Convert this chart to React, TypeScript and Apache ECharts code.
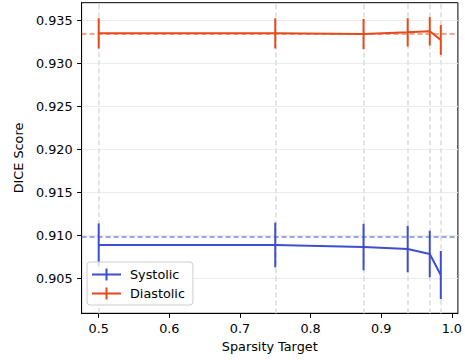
import React, { useEffect, useRef } from "react";
import * as echarts from "echarts";

const sparsity = [0.5, 0.75, 0.875, 0.9375, 0.96875, 0.984375];
const systolicMean = [0.90887, 0.90887, 0.90863, 0.9084, 0.90782, 0.90538];
const systolicErr = [0.0025, 0.0026, 0.0027, 0.0027, 0.0027, 0.0028];
const diastolicMean = [0.93345, 0.93345, 0.93337, 0.93357, 0.93369, 0.93268];
const diastolicErr = [0.00176, 0.00176, 0.00176, 0.00165, 0.00165, 0.00174];
const systolicBaseline = 0.90983;
const diastolicBaseline = 0.93345;
const xTicks = [0.5, 0.6, 0.7, 0.8, 0.9, 1.0];
const yTicks = [0.905, 0.91, 0.915, 0.92, 0.925, 0.93, 0.935];

const BLUE = "#3b4fcf";
const ORANGE = "#e64a19";
const FONT = "DejaVu Sans";
const FS = 12.8;
const LW = 2;

const legendIcon = "path://M0,5h29v2h-29z M13.5,0h2v12h-2z";

function errSeries(name: string, color: string, means: number[], errs: number[]) {
  return {
    name,
    type: "custom",
    z: 6,
    data: sparsity.map((x, i) => [x, means[i], errs[i]]),
    encode: { x: 0, y: 1 },
    renderItem: (_p: any, api: any) => {
      const x = api.value(0);
      const y = api.value(1);
      const e = api.value(2);
      const a = api.coord([x, y - e]);
      const b = api.coord([x, y + e]);
      return {
        type: "line",
        shape: { x1: a[0], y1: a[1], x2: b[0], y2: b[1] },
        style: { stroke: color, lineWidth: LW },
      };
    },
  };
}

export default function App() {
  const ref = useRef<HTMLDivElement>(null);
  useEffect(() => {
    if (!ref.current) return;
    const chart = echarts.init(ref.current, null, { renderer: "svg" });
    chart.setOption({
      animation: false,
      textStyle: { fontFamily: FONT },
      grid: {
        left: 81.6,
        right: 7,
        top: 2.7,
        bottom: 46.7,
        show: true,
        borderColor: "#000",
        borderWidth: 1,
      },
      legend: {
        orient: "vertical",
        left: 87,
        top: 262,
        z: 10,
        padding: [6, 8, 5, 5],
        itemGap: 6,
        itemWidth: 29,
        itemHeight: 12,
        borderColor: "#cccccc",
        borderWidth: 1,
        borderRadius: 3,
        backgroundColor: "rgba(255,255,255,0.8)",
        textStyle: { fontSize: FS, color: "#000", fontFamily: FONT, padding: [0, 0, 0, 4] },
        data: [
          { name: "Systolic", icon: legendIcon },
          { name: "Diastolic", icon: legendIcon },
        ],
      },
      xAxis: {
        type: "value",
        min: 0.4758,
        max: 1.0086,
        name: "Sparsity Target",
        nameLocation: "middle",
        nameGap: 27,
        nameTextStyle: { fontSize: FS, color: "#000", fontFamily: FONT },
        axisLine: { show: true, lineStyle: { color: "#000", width: 1 } },
        axisTick: {
          show: true,
          length: 4.5,
          customValues: xTicks,
          lineStyle: { color: "#000", width: 1 },
        },
        axisLabel: {
          customValues: xTicks,
          margin: 9,
          fontSize: FS,
          color: "#000",
          fontFamily: FONT,
          formatter: (v: number) => v.toFixed(1),
        },
        splitLine: { show: false },
      },
      yAxis: {
        type: "value",
        min: 0.900935,
        max: 0.93701,
        name: "DICE Score",
        nameLocation: "middle",
        nameGap: 52,
        nameTextStyle: { fontSize: FS, color: "#000", fontFamily: FONT },
        axisLine: { show: true, lineStyle: { color: "#000", width: 1 } },
        axisTick: {
          show: true,
          length: 4.5,
          customValues: yTicks,
          lineStyle: { color: "#000", width: 1 },
        },
        axisLabel: {
          customValues: yTicks,
          margin: 9,
          fontSize: FS,
          color: "#000",
          fontFamily: FONT,
          formatter: (v: number) => v.toFixed(3),
        },
        splitLine: { show: true, lineStyle: { color: "#ebebeb", width: 1 } },
      },
      series: [
        {
          name: "guides",
          type: "line",
          data: [],
          z: 1,
          silent: true,
          markLine: {
            silent: true,
            z: 1,
            symbol: "none",
            precision: 8,
            label: { show: false },
            animation: false,
            data: [
              ...sparsity.map((x) => ({
                xAxis: x,
                lineStyle: { color: "#e3e3e3", type: [5, 3], width: LW },
              })),
              {
                yAxis: systolicBaseline,
                lineStyle: { color: BLUE, opacity: 0.5, type: [5, 3], width: LW },
              },
              {
                yAxis: diastolicBaseline,
                lineStyle: { color: ORANGE, opacity: 0.5, type: [5, 3], width: LW },
              },
            ],
          },
        },
        {
          name: "Systolic",
          type: "line",
          z: 5,
          color: BLUE,
          showSymbol: false,
          symbol: "none",
          lineStyle: { width: LW, color: BLUE },
          data: sparsity.map((x, i) => [x, systolicMean[i]]),
        },
        {
          name: "Diastolic",
          type: "line",
          z: 5,
          color: ORANGE,
          showSymbol: false,
          symbol: "none",
          lineStyle: { width: LW, color: ORANGE },
          data: sparsity.map((x, i) => [x, diastolicMean[i]]),
        },
        errSeries("Systolic", BLUE, systolicMean, systolicErr),
        errSeries("Diastolic", ORANGE, diastolicMean, diastolicErr),
      ],
    });
    return () => chart.dispose();
  }, []);
  return <div ref={ref} style={{ width: 465, height: 360, position: "absolute", left: 0, top: 0 }} />;
}
